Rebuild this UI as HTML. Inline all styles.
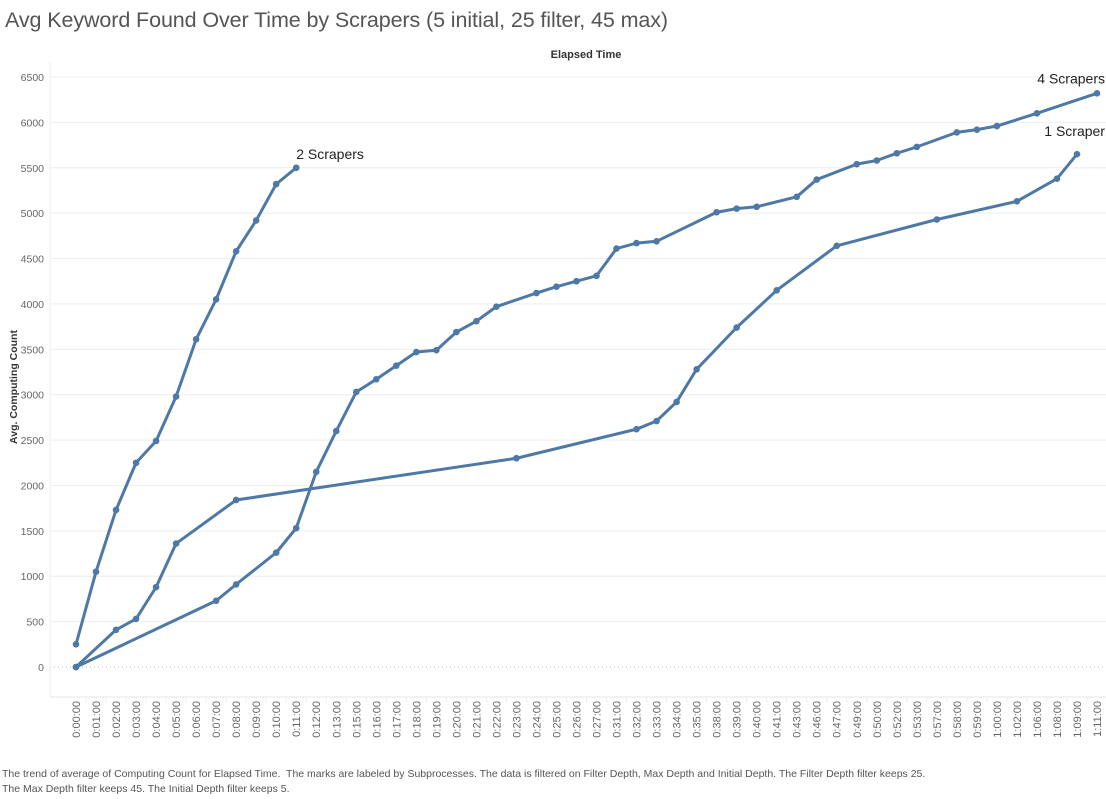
<!DOCTYPE html>
<html><head><meta charset="utf-8">
<style>
html,body{margin:0;padding:0;background:#fff;}
body{width:1106px;height:799px;overflow:hidden;font-family:"Liberation Sans",sans-serif;position:relative;}
#title{position:absolute;left:5px;top:8px;font-size:21.5px;color:#555;white-space:nowrap;letter-spacing:-0.1px}
#foot{position:absolute;left:2px;top:767px;font-size:10.5px;color:#555;line-height:15px;width:1100px}
svg{position:absolute;left:0;top:0}
</style></head>
<body>
<div id="title">Avg Keyword Found Over Time by Scrapers (5 initial, 25 filter, 45 max)</div>
<svg id="chart" width="1106" height="799"></svg>
<div id="foot">The trend of average of Computing Count for Elapsed Time.&nbsp; The marks are labeled by Subprocesses. The data is filtered on Filter Depth, Max Depth and Initial Depth. The Filter Depth filter keeps 25.<br>The Max Depth filter keeps 45. The Initial Depth filter keeps 5.</div>
<script>
const categories=["0:00:00","0:01:00","0:02:00","0:03:00","0:04:00","0:05:00","0:06:00","0:07:00","0:08:00","0:09:00","0:10:00","0:11:00","0:12:00","0:13:00","0:15:00","0:16:00","0:17:00","0:18:00","0:19:00","0:20:00","0:21:00","0:22:00","0:23:00","0:24:00","0:25:00","0:26:00","0:27:00","0:31:00","0:32:00","0:33:00","0:34:00","0:35:00","0:38:00","0:39:00","0:40:00","0:41:00","0:43:00","0:46:00","0:47:00","0:49:00","0:50:00","0:52:00","0:53:00","0:57:00","0:58:00","0:59:00","1:00:00","1:02:00","1:06:00","1:08:00","1:09:00","1:11:00"];
const yTicks=[0,500,1000,1500,2000,2500,3000,3500,4000,4500,5000,5500,6000,6500];
const s2Idx=[0,1,2,3,4,5,6,7,8,9,10,11];
const s2Val=[250,1050,1730,2250,2490,2980,3610,4050,4580,4920,5320,5500];
const s4Idx=[0,7,8,10,11,12,13,14,15,16,17,18,19,20,21,23,24,25,26,27,28,29,32,33,34,36,37,39,40,41,42,44,45,46,48,51];
const s4Val=[0,730,910,1260,1530,2150,2600,3030,3170,3320,3470,3490,3690,3810,3970,4120,4190,4250,4310,4610,4670,4690,5010,5050,5070,5180,5370,5540,5580,5660,5730,5890,5920,5960,6100,6320];
const s1Idx=[0,2,3,4,5,8,22,28,29,30,31,33,35,38,43,47,49,50];
const s1Val=[0,410,530,880,1360,1840,2300,2620,2710,2920,3280,3740,4150,4640,4930,5130,5380,5650];
const seriesNames=["2 Scrapers","4 Scrapers","1 Scraper"];

const svg=document.getElementById('chart');
const NS="http://www.w3.org/2000/svg";
const X0=76,X1=1097,Y0=667,Y1=77;
const xs=i=>X0+(X1-X0)*i/(categories.length-1);
const ys=v=>Y0-(Y0-Y1)*v/6500;
function mk(t,a){const e=document.createElementNS(NS,t);for(const k in a)e.setAttribute(k,a[k]);svg.appendChild(e);return e;}

for(const t of yTicks){
  const y=ys(t);
  const g=mk('line',{x1:50,x2:1106,y1:y,y2:y,stroke:t===0?'#bbb':'#eee','stroke-width':1,'stroke-dasharray':t===0?'1,3':'none'});
  
  
  const tx=mk('text',{x:44,y:y+4,'text-anchor':'end','font-size':10.5,fill:'#666'});
  tx.textContent=t;
  
  
}
const va=mk('line',{x1:50,x2:50,y1:62,y2:697,stroke:'#eee'});


const ba=mk('line',{x1:50,x2:1106,y1:697,y2:697,stroke:'#e6e6e6'});


categories.forEach((c,i)=>{
  const x=xs(i);
  const tk=mk('line',{x1:x+10,x2:x+10,y1:697,y2:703,stroke:'#eee'});
  
  
  const t=mk('text',{x:0,y:0,'text-anchor':'end','font-size':11,fill:'#666',transform:`translate(${x+4},701) rotate(-90)`});
  t.textContent=c;
  
  
});
const yt=mk('text',{x:0,y:0,'text-anchor':'middle','font-size':10.5,'font-weight':'bold',fill:'#333',transform:'translate(17,387) rotate(-90)'});
yt.textContent='Avg. Computing Count';


const xt=mk('text',{x:586,y:58,'text-anchor':'middle','font-size':11,'font-weight':'bold',fill:'#333'});
xt.textContent='Elapsed Time';



const series=[[s2Idx,s2Val],[s4Idx,s4Val],[s1Idx,s1Val]];
const labelPos=[[0,-9,'start'],[8,-10,'end'],[28,-18,'end']];
series.forEach(([ix,vals],k)=>{
  const pts=ix.map((i,j)=>xs(i)+','+ys(vals[j])).join(' ');
  const pl=mk('polyline',{points:pts,fill:'none',stroke:'#4e79a7','stroke-width':3,'stroke-linejoin':'round'});
  
  
  ix.forEach((i,j)=>{
    const c=mk('circle',{cx:xs(i),cy:ys(vals[j]),r:3.3,fill:'#4e79a7'});
    
    
  });
  const li=ix.length-1;
  const lp=labelPos[k];
  const lt=mk('text',{x:xs(ix[li])+lp[0],y:ys(vals[li])+lp[1],'text-anchor':lp[2],'font-size':14,fill:'#222'});
  lt.textContent=seriesNames[k];
  
  
});
</script>
</body></html>
